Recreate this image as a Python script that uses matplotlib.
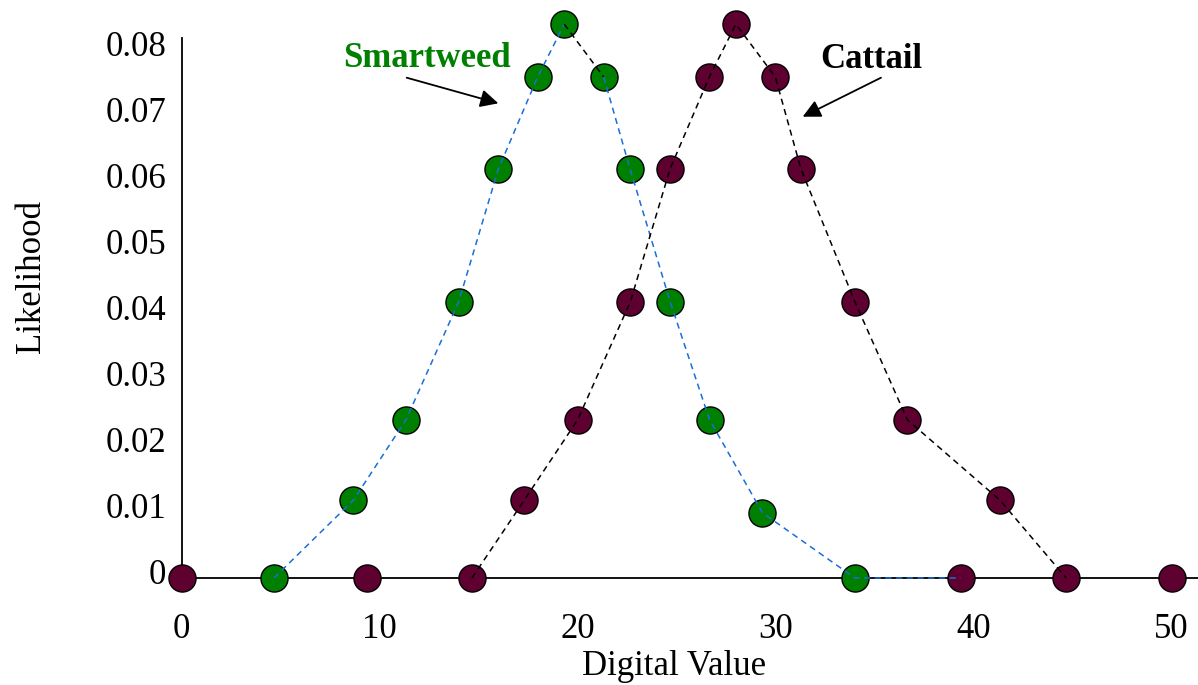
import matplotlib
matplotlib.use("Agg")
from matplotlib import pyplot as plt
from matplotlib.transforms import ScaledTranslation

# values
smartweed_x = [4.66, 8.67, 11.33, 13.99, 15.99, 17.98, 19.32, 21.31, 22.65, 24.67, 26.66, 29.33, 34.0]
smartweed_y = [0.0, 0.0118, 0.0240, 0.0419, 0.0620, 0.0760, 0.0840, 0.0760, 0.0620, 0.0419, 0.0240, 0.0099, 0.0]
# the smartweed dashed line runs on to the cattail zero point near 40
smartweed_line_end = (39.34, 0.0)

cattail_x = [0.0, 9.34, 14.66, 17.30, 20.0, 22.66, 24.66, 26.65, 27.99, 29.98, 31.28, 34.0, 36.65, 39.34, 41.33, 44.67, 50.0]
cattail_y = [0.0, 0.0, 0.0, 0.0118, 0.0240, 0.0419, 0.0620, 0.0760, 0.0840, 0.0760, 0.0620, 0.0419, 0.0240, 0.0, 0.0118, 0.0, 0.0]
# points joined by the cattail dashed line
cattail_line_idx = [2, 3, 4, 5, 6, 7, 8, 9, 10, 11, 12, 14, 15]

x_ticks = [0, 10, 20, 30, 40, 50]
y_ticks = [0, 0.01, 0.02, 0.03, 0.04, 0.05, 0.06, 0.07, 0.08]
y_ticklabels = ["0", "0.01", "0.02", "0.03", "0.04", "0.05", "0.06", "0.07", "0.08"]

green = "#008000"
maroon = "#5e0030"
blue = "#1a6ed8"

plt.rcParams["font.family"] = ["Liberation Serif", "DejaVu Serif"]

fig = plt.figure(figsize=(11.98, 6.85), dpi=100)
W, H = 1198, 685
ax = fig.add_axes([181.7 / W, 1 - 578 / H, (W - 181.7) / W, (578 - 38) / H])

ax.set_xlim(0, 51.33)
ax.set_ylim(0, 0.0819)

msize = 19.5
ax.plot(smartweed_x, smartweed_y, "o", ms=msize, mfc=green, mec="black", mew=1.0,
        linestyle="none", clip_on=False, zorder=3)
ax.plot(cattail_x, cattail_y, "o", ms=msize, mfc=maroon, mec="black", mew=1.0,
        linestyle="none", clip_on=False, zorder=4)

# dashed connecting lines drawn over the markers
sw_lx = smartweed_x + [smartweed_line_end[0]]
sw_ly = smartweed_y + [smartweed_line_end[1]]
dash = (4, 3)
ax.plot(sw_lx[:7], sw_ly[:7], color=blue, lw=1.1, dashes=dash, clip_on=False, zorder=5)
ax.plot(sw_lx[6:8], sw_ly[6:8], color="black", lw=1.1, dashes=dash, clip_on=False, zorder=5)
ax.plot(sw_lx[7:], sw_ly[7:], color=blue, lw=1.1, dashes=dash, clip_on=False, zorder=5)

ct_lx = [cattail_x[i] for i in cattail_line_idx]
ct_ly = [cattail_y[i] for i in cattail_line_idx]
ax.plot(ct_lx, ct_ly, color="black", lw=1.1, dashes=dash, clip_on=False, zorder=5)

for side in ["top", "right"]:
    ax.spines[side].set_visible(False)
for side in ["left", "bottom"]:
    ax.spines[side].set_linewidth(1.3)
    ax.spines[side].set_zorder(2)

ax.set_xticks(x_ticks)
ax.set_xticklabels([str(t) for t in x_ticks])
ax.set_yticks(y_ticks)
ax.set_yticklabels(y_ticklabels)
ax.tick_params(axis="both", length=0, labelsize=25)
ax.tick_params(axis="y", pad=11)
ax.tick_params(axis="x", pad=25)

up = ScaledTranslation(0, 7 / 100, fig.dpi_scale_trans)
for lab in ax.get_yticklabels():
    lab.set_transform(lab.get_transform() + up)

ax.set_xlabel("Digital Value", fontsize=25, va="baseline")
ax.xaxis.set_label_coords((674 - 181.7) / (W - 181.7), (578 - 675) / 540)
ax.set_ylabel("Likelihood", fontsize=25, va="baseline")
ax.yaxis.set_label_coords((40 - 181.7) / (W - 181.7), (578 - 277) / 540)

fig.text(426.5 / W, (H - 67) / H, "Smartweed", color=green, fontsize=25,
         fontweight="bold", ha="center", va="baseline")
fig.text(871 / W, (H - 68) / H, "Cattail", color="black", fontsize=25,
         fontweight="bold", ha="center", va="baseline")

arrow = dict(arrowstyle="-|>", color="black", lw=1.3, mutation_scale=27,
             shrinkA=0, shrinkB=0)
ax.annotate("", xy=(498.3, H - 103.3), xytext=(406.7, H - 77.7),
            xycoords="figure pixels", textcoords="figure pixels", arrowprops=arrow)
ax.annotate("", xy=(802.7, H - 116.7), xytext=(881, H - 77.7),
            xycoords="figure pixels", textcoords="figure pixels", arrowprops=arrow)

fig.savefig("out.png", dpi=100)
